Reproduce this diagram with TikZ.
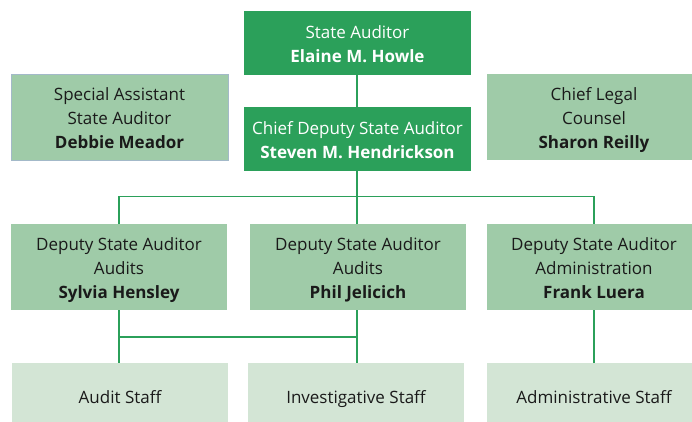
\documentclass[tikz,border=0pt]{standalone}
\usepackage{fontspec}
\setmainfont{Open Sans}
\definecolor{darkgreen}{HTML}{2BA05A}
\definecolor{midgreen}{HTML}{9FCBA8}
\definecolor{lightgreen}{HTML}{D3E5D5}
\definecolor{edgeblue}{HTML}{A3B9C9}
\definecolor{inktext}{HTML}{1A1A1A}
% centred lines of a box, set a little below the box centre
\newcommand{\boxlines}[1]{\raisebox{-2.8pt}[\height][\depth]{\begin{tabular}{@{}c@{}}#1\end{tabular}}}
\begin{document}
\begin{tikzpicture}[x=1pt,y=-1pt,
  box/.style={inner sep=0pt, anchor=center,
    font=\fontsize{17}{24}\selectfont},
  topbox/.style={box, fill=darkgreen, text=white, minimum width=227pt, minimum height=64pt},
  sidebox/.style={box, fill=midgreen, text=inktext, minimum width=217pt, minimum height=86pt},
  deputybox/.style={box, fill=midgreen, text=inktext, minimum width=216pt, minimum height=86pt},
  staffbox/.style={box, fill=lightgreen, text=inktext, minimum width=216pt, minimum height=66pt},
  link/.style={draw=darkgreen, line width=1.2pt}]
\useasboundingbox (0,0) rectangle (692,421);
\clip (0,0) rectangle (692,421);

% top of the office
\node[topbox] (sa) at (357.5,43) {\boxlines{State Auditor\\\textbf{Elaine M. Howle}}};
\node[topbox] (cd) at (357.5,139) {\boxlines{Chief Deputy State Auditor\\\textbf{Steven M. Hendrickson}}};

% staff positions beside the chain of command
\node[sidebox, draw=edgeblue, line width=0.8pt] (spa) at (119.5,117) {\boxlines{Special Assistant\\State Auditor\\\textbf{Debbie Meador}}};
\node[sidebox, minimum width=214pt] (clc) at (594,117) {\boxlines{Chief Legal\\Counsel\\\textbf{Sharon Reilly}}};

% deputies
\node[deputybox] (d1) at (119,267) {\boxlines{Deputy State Auditor\\Audits\\\textbf{Sylvia Hensley}}};
\node[deputybox] (d2) at (358,267) {\boxlines{Deputy State Auditor\\Audits\\\textbf{Phil Jelicich}}};
\node[deputybox, minimum width=214pt] (d3) at (594,267) {\boxlines{Deputy State Auditor\\Administration\\\textbf{Frank Luera}}};

% staff groups
\node[staffbox] (s1) at (120,396) {\boxlines{Audit Staff}};
\node[staffbox] (s2) at (356,396) {\boxlines{Investigative Staff}};
\node[staffbox, minimum width=214pt] (s3) at (594,396) {\boxlines{Administrative Staff}};

% junction points
\coordinate (j1) at (357,196.7);
\coordinate (j2) at (357,337);

% connectors
\draw[link] (sa.south -| j1) -- (cd.north -| j1);
\draw[link] (cd.south -| j1) -- (j1);
\draw[link] (j1) -| (d1.north);
\draw[link] (j1) -- (d2.north -| j1);
\draw[link] (j1) -| (d3.north);
\draw[link] (d1.south) -- (s1.north -| d1.south);
\draw[link] (d2.south -| j2) -- (s2.north -| j2);
\draw[link] (j2) -- (j2 -| d1.south);
\draw[link] (d3.south) -- (s3.north);
\end{tikzpicture}
\end{document}
